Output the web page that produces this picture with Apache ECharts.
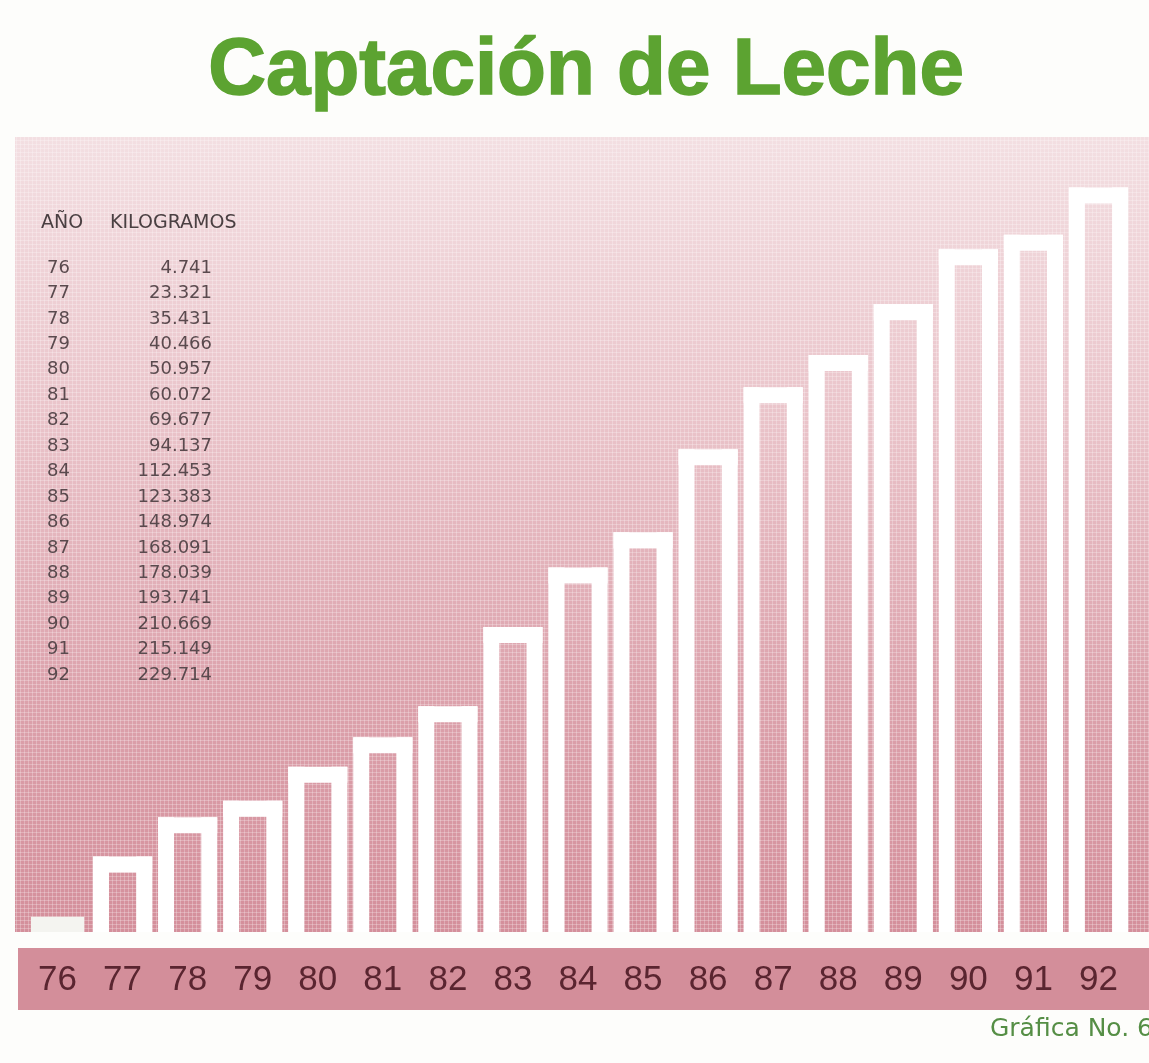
<!DOCTYPE html>
<html>
<head>
<meta charset="utf-8">
<title>Captación de Leche</title>
<script src="https://cdn.jsdelivr.net/npm/echarts@6/dist/echarts.min.js"></script>
<style>
  html, body { margin: 0; padding: 0; background: #fdfdfb; }
  #graph { width: 1149px; height: 1063px; }
</style>
</head>
<body>
<div id="graph"></div>
<script>
// datos de la gráfica
var titleText = 'Captación de Leche'
var years = ['76', '77', '78', '79', '80', '81', '82', '83', '84', '85', '86', '87', '88', '89', '90', '91', '92']
var kilos = [4.741, 23.321, 35.431, 40.466, 50.957, 60.072, 69.677, 94.137, 112.453, 123.383,
  148.974, 168.091, 178.039, 193.741, 210.669, 215.149, 229.714]
var tableHead = ['AÑO', 'KILOGRAMOS']
var footText = 'Gráfica No. 6'

// textura de puntos del fondo
var dots = document.createElement('canvas')
dots.width = 4
dots.height = 4
var dctx = dots.getContext('2d')
dctx.fillStyle = 'rgba(255,255,255,0.25)'
dctx.fillRect(0, 0, 4, 1)
dctx.fillRect(0, 0, 1, 4)

var chart = echarts.init(document.getElementById('graph'))

// tabla de valores arriba a la izquierda
var tableItems = [
  { type: 'text', x: 41, y: 223, z: 100, style: { text: tableHead[0], fill: '#4a4042', font: '19px "DejaVu Sans"', verticalAlign: 'middle' } },
  { type: 'text', x: 110, y: 223, z: 100, style: { text: tableHead[1], fill: '#4a4042', font: '19px "DejaVu Sans"', verticalAlign: 'middle' } }
]
years.forEach(function (y, i) {
  var cy = 268 + i * 25.44
  tableItems.push({
    type: 'text', x: 47, y: cy, z: 100,
    style: { text: y, fill: '#5a4a4e', font: '18px "DejaVu Sans"', verticalAlign: 'middle' }
  })
  tableItems.push({
    type: 'text', x: 212, y: cy, z: 100,
    style: { text: kilos[i].toFixed(3), fill: '#5a4a4e', font: '18px "DejaVu Sans"', align: 'right', verticalAlign: 'middle' }
  })
})

var option = {
  animation: false,
  backgroundColor: '#fdfdfb',
  grid: { left: 25, right: 18, top: 138, bottom: 131 },
  xAxis: {
    type: 'category',
    data: years,
    axisLine: { show: false },
    axisTick: { show: false },
    splitLine: { show: false },
    axisLabel: {
      color: '#5a2530',
      fontSize: 35,
      fontFamily: '"Liberation Sans Narrow", "Liberation Sans", sans-serif',
      verticalAlign: 'middle',
      margin: 48
    }
  },
  yAxis: {
    type: 'value',
    min: 0,
    max: 245,
    show: false,
    splitLine: { show: false }
  },
  graphic: [
    // fondo rosa degradado
    {
      type: 'rect', z: -10, silent: true,
      shape: { x: 15, y: 137, width: 1134, height: 795 },
      style: {
        fill: new echarts.graphic.LinearGradient(0, 0, 0, 1, [
          { offset: 0, color: '#f3dfe2' },
          { offset: 0.35, color: '#eac4ca' },
          { offset: 0.7, color: '#dca2ac' },
          { offset: 1, color: '#d48f9b' }
        ])
      }
    },
    {
      type: 'rect', z: -9, silent: true,
      shape: { x: 15, y: 137, width: 1134, height: 795 },
      style: { fill: { image: dots, repeat: 'repeat' } }
    },
    // banda de los años
    {
      type: 'rect', z: -10, silent: true,
      shape: { x: 18, y: 948, width: 1131, height: 62 },
      style: { fill: '#d38e9a' }
    },
    {
      type: 'text', x: 586, y: 72, z: 100,
      style: {
        text: titleText, fill: '#5ca331', stroke: '#5ca331', lineWidth: 1.5,
        align: 'center', verticalAlign: 'middle',
        font: 'bold 80px "Liberation Sans", Arial, sans-serif'
      }
    },
    {
      type: 'text', x: 1153, y: 1029, z: 100,
      style: {
        text: footText, fill: '#558e45', align: 'right', verticalAlign: 'middle',
        font: '25px "DejaVu Sans"'
      }
    }
  ].concat(tableItems),
  series: [
    {
      type: 'custom',
      data: kilos.map(function (v, i) { return [i, v] }),
      renderItem: function (params, api) {
        var top = api.coord([api.value(0), api.value(1)])
        var base = api.coord([api.value(0), 0])
        var band = api.size([1, 0])[0]
        var w = band * 0.91
        var b = 16
        var x0 = top[0] - w / 2
        var h = base[1] - top[1]
        var st = { fill: '#ffffff' }
        if (h <= b + 4) {
          return { type: 'rect', shape: { x: x0 + 3, y: top[1], width: w - 6, height: h }, style: { fill: '#f4f4f0' } }
        }
        return {
          type: 'group',
          children: [
            { type: 'rect', shape: { x: x0, y: top[1], width: w, height: b }, style: st },
            { type: 'rect', shape: { x: x0, y: top[1], width: b, height: h }, style: st },
            { type: 'rect', shape: { x: x0 + w - b, y: top[1], width: b, height: h }, style: st }
          ]
        }
      }
    }
  ]
}

chart.setOption(option)
</script>
</body>
</html>
